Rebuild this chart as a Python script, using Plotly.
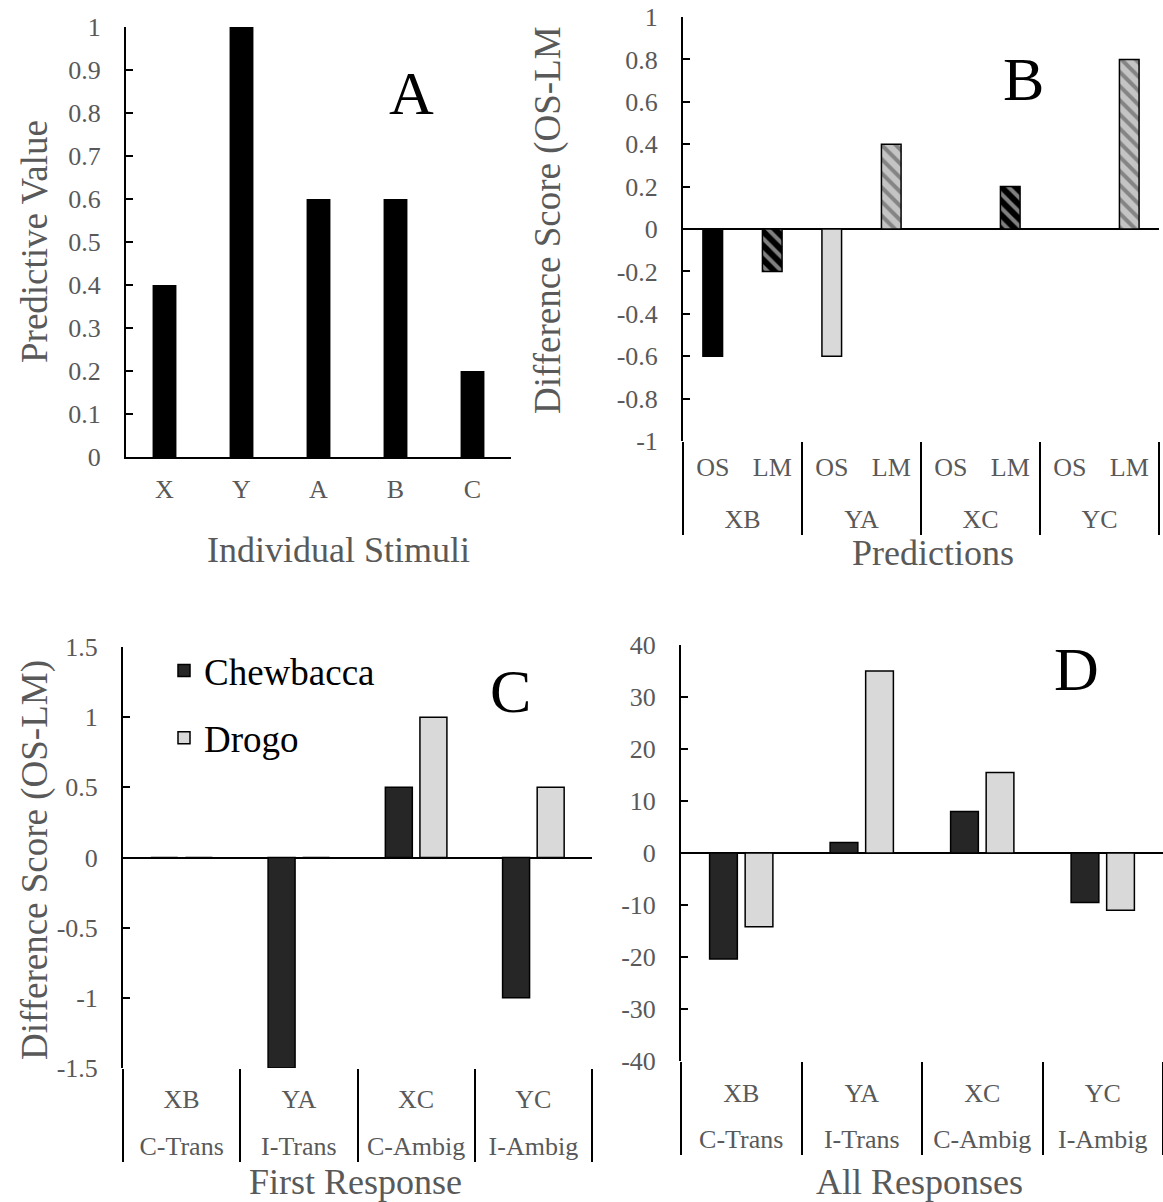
import plotly.graph_objects as go

W, H = 1163, 1202

# ---------------- data ----------------
a_categories = ["X", "Y", "A", "B", "C"]
a_values = [0.4, 1.0, 0.6, 0.6, 0.2]
a_tickvals = [0, 0.1, 0.2, 0.3, 0.4, 0.5, 0.6, 0.7, 0.8, 0.9, 1.0]
a_ticktext = ["0", "0.1", "0.2", "0.3", "0.4", "0.5", "0.6", "0.7", "0.8", "0.9", "1"]

b_pairs = ["XB", "XB", "YA", "YA", "XC", "XC", "YC", "YC"]
b_models = ["OS", "LM", "OS", "LM", "OS", "LM", "OS", "LM"]
b_values = [-0.6, -0.2, -0.6, 0.4, 0.0, 0.2, 0.0, 0.8]
b_tickvals = [1, 0.8, 0.6, 0.4, 0.2, 0, -0.2, -0.4, -0.6, -0.8, -1]
b_ticktext = ["1", "0.8", "0.6", "0.4", "0.2", "0", "-0.2", "-0.4", "-0.6", "-0.8", "-1"]

cd_conditions = ["C-Trans", "I-Trans", "C-Ambig", "I-Ambig"]
cd_pairs = ["XB", "YA", "XC", "YC"]
c_chewbacca = [0.0, -1.5, 0.5, -1.0]
c_drogo = [0.0, 0.0, 1.0, 0.5]
c_tickvals = [1.5, 1, 0.5, 0, -0.5, -1, -1.5]
c_ticktext = ["1.5", "1", "0.5", "0", "-0.5", "-1", "-1.5"]

d_chewbacca = [-20.4, 2.0, 8.0, -9.5]
d_drogo = [-14.2, 35.0, 15.5, -11.0]
d_tickvals = [40, 30, 20, 10, 0, -10, -20, -30, -40]
d_ticktext = ["40", "30", "20", "10", "0", "-10", "-20", "-30", "-40"]

# ---------------- styling ----------------
FONT = "Liberation Serif"
GRAY_TXT = "#595959"
DARK = "#262626"
LIGHT = "#d9d9d9"
HATCH_GRAY = "#c4c4c4"
TICK = 26
TITLE_H = 36
TITLE_V = 37

# invisible tall spacer that widens the gap between the two category rows
SP = "<span style='font-size:53px'>\u00a0</span>"


def pad_label(s):
    return SP + s + SP


def px_x(p):
    return p / W


def px_y(p):
    return 1 - p / H


b_fill = ["black", "black", LIGHT, HATCH_GRAY, "black", "black", LIGHT, HATCH_GRAY]
b_shape = ["", "\\", "", "\\", "", "\\", "", "\\"]

b_inner = [pad_label(m) for m in b_models]
cd_inner = [pad_label(p) for p in cd_pairs]

fig = go.Figure()

# Panel A
fig.add_trace(go.Bar(x=a_categories, y=a_values, width=0.31,
                     marker=dict(color="black", line=dict(width=0)),
                     showlegend=False, xaxis="x", yaxis="y"))

# Panel B
fig.add_trace(go.Bar(x=[b_pairs, b_inner], y=b_values, width=0.33,
                     marker=dict(color=b_fill,
                                 line=dict(color="black", width=1.5),
                                 pattern=dict(shape=b_shape, fgcolor=b_fill,
                                              bgcolor="white", size=10,
                                              solidity=0.4)),
                     showlegend=False, xaxis="x2", yaxis="y2"))

# Panel C
fig.add_trace(go.Bar(x=[cd_conditions, cd_inner], y=c_chewbacca, name="Chewbacca",
                     marker=dict(color=DARK, line=dict(color="black", width=1.5)),
                     legendgroup="chew", xaxis="x3", yaxis="y3"))
fig.add_trace(go.Bar(x=[cd_conditions, cd_inner], y=c_drogo, name="Drogo",
                     marker=dict(color=LIGHT, line=dict(color="black", width=1.5)),
                     legendgroup="drogo", xaxis="x3", yaxis="y3"))

# Panel D
fig.add_trace(go.Bar(x=[cd_conditions, cd_inner], y=d_chewbacca, name="Chewbacca",
                     marker=dict(color=DARK, line=dict(color="black", width=1.5)),
                     legendgroup="chew", showlegend=False, xaxis="x4", yaxis="y4"))
fig.add_trace(go.Bar(x=[cd_conditions, cd_inner], y=d_drogo, name="Drogo",
                     marker=dict(color=LIGHT, line=dict(color="black", width=1.5)),
                     legendgroup="drogo", showlegend=False, xaxis="x4", yaxis="y4"))

tickfont = dict(family=FONT, size=TICK, color=GRAY_TXT)

yaxis_common = dict(showgrid=False, showline=True, linecolor="black", linewidth=2,
                    ticks="inside", ticklen=7, tickwidth=2, tickcolor="black",
                    tickfont=tickfont, ticklabelstandoff=18, tickmode="array",
                    automargin=False)
xaxis_mc = dict(type="multicategory", showgrid=False, showline=False, ticks="",
                tickfont=tickfont, showdividers=True, dividercolor="black",
                dividerwidth=2, automargin=False, tickangle=0)

fig.update_layout(
    width=W, height=H, margin=dict(l=0, r=0, t=0, b=0, autoexpand=False),
    paper_bgcolor="white", plot_bgcolor="white",
    font=dict(family=FONT, color=GRAY_TXT),
    barmode="group", bargap=0.41, bargroupgap=0.22,
    xaxis=dict(domain=[px_x(126), px_x(511)], anchor="y", type="category",
               range=[-0.5, 4.5], showgrid=False, showline=True, linecolor="black",
               linewidth=2, ticks="", tickfont=tickfont, ticklabelstandoff=8,
               automargin=False),
    yaxis=dict(domain=[px_y(457), px_y(27)], anchor="x", range=[0, 1],
               zeroline=False, tickvals=a_tickvals, ticktext=a_ticktext, **yaxis_common),
    xaxis2=dict(domain=[px_x(683), px_x(1159)], anchor="y2", range=[-0.5, 7.5],
                ticklabelstandoff=8, **xaxis_mc),
    yaxis2=dict(domain=[px_y(441), px_y(17)], anchor="x2", range=[-1, 1],
                zeroline=True, zerolinecolor="black", zerolinewidth=2,
                tickvals=b_tickvals, ticktext=b_ticktext, **yaxis_common),
    xaxis3=dict(domain=[px_x(123), px_x(592)], anchor="y3", range=[-0.5, 3.5],
                ticklabelstandoff=13, **xaxis_mc),
    yaxis3=dict(domain=[px_y(1068), px_y(647)], anchor="x3", range=[-1.5, 1.5],
                zeroline=True, zerolinecolor="black", zerolinewidth=2,
                tickvals=c_tickvals, ticktext=c_ticktext, **yaxis_common),
    xaxis4=dict(domain=[px_x(681), 1.0], anchor="y4", range=[-0.5, 3.5],
                ticklabelstandoff=14, **xaxis_mc),
    yaxis4=dict(domain=[px_y(1061), px_y(645)], anchor="x4", range=[-40, 40],
                zeroline=True, zerolinecolor="black", zerolinewidth=2,
                tickvals=d_tickvals, ticktext=d_ticktext, **yaxis_common),
    legend=dict(x=px_x(164), y=px_y(640), xanchor="left", yanchor="top",
                font=dict(family=FONT, size=37, color="black"),
                bgcolor="rgba(0,0,0,0)", tracegroupgap=16, traceorder="grouped"),
)

annots = [
    # panel letters
    ("A", 411, 93, 0, 62, "black"),
    ("B", 1023, 79, 0, 62, "black"),
    ("C", 510, 691, 0, 62, "black"),
    ("D", 1076, 669, 0, 62, "black"),
    # axis titles
    ("Predictive Value", 34, 242, -90, TITLE_V, GRAY_TXT),
    ("Individual Stimuli", 338, 550, 0, TITLE_H, GRAY_TXT),
    ("Difference Score (OS-LM", 548, 220, -90, TITLE_V, GRAY_TXT),
    ("Predictions", 933, 553, 0, TITLE_H, GRAY_TXT),
    ("Difference Score (OS-LM)", 35, 860, -90, TITLE_V, GRAY_TXT),
    ("First Response", 355, 1182, 0, TITLE_H, GRAY_TXT),
    ("All Responses", 920, 1182, 0, TITLE_H, GRAY_TXT),
]
for text, x, y, ang, size, col in annots:
    fig.add_annotation(text=text, x=px_x(x), y=px_y(y), xref="paper", yref="paper",
                       xanchor="center", yanchor="middle", showarrow=False,
                       textangle=ang, font=dict(family=FONT, size=size, color=col))

fig.write_html("out.html", config={"displayModeBar": False},
               post_script="document.body.style.margin='0px';")
